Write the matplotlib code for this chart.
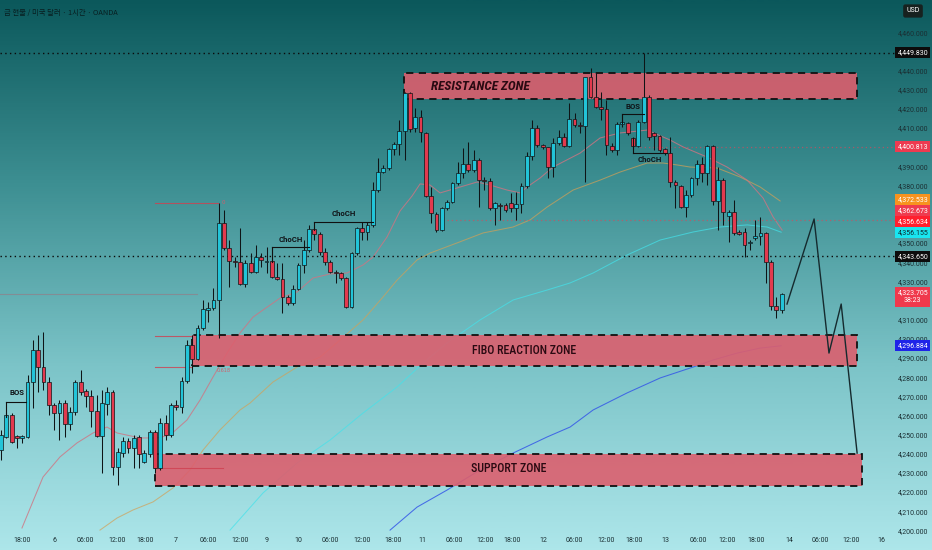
import numpy as np
import matplotlib
matplotlib.use("Agg")
import matplotlib.pyplot as plt
from matplotlib.patches import Rectangle
from matplotlib.colors import LinearSegmentedColormap
from matplotlib import font_manager
import matplotlib.transforms as mtrans

# ---------------- data ----------------
opens = [4242.5, 4249.3, 4260.8, 4249.3, 4249.0, 4249.3, 4278.0, 4294.7, 4285.8, 4278.0,
         4266.0, 4261.8, 4267.0, 4256.1, 4262.3, 4278.0, 4273.3, 4270.7, 4262.9, 4249.8,
         4266.5, 4272.8, 4233.6, 4240.9, 4247.2, 4243.5, 4249.3, 4236.2, 4240.4, 4251.9,
         4233.1, 4256.6, 4250.3, 4266.0, 4264.9, 4278.5, 4297.3, 4290.0, 4306.2, 4315.6,
         4316.6, 4320.8, 4361.0, 4347.9, 4341.2, 4340.6, 4329.2, 4340.1, 4335.4, 4343.2,
         4340.6, 4341.2, 4332.8, 4331.8, 4322.4, 4319.2, 4326.5, 4339.1, 4346.9, 4357.9,
         4355.3, 4345.9, 4340.6, 4335.4, 4334.9, 4332.3, 4317.1, 4345.3, 4358.4, 4356.3,
         4360.0, 4378.2, 4387.6, 4389.7, 4399.6, 4402.2, 4409.0, 4428.9, 4410.6, 4416.3,
         4408.0, 4375.1, 4365.7, 4357.3, 4368.8, 4372.0, 4381.9, 4387.1, 4391.8, 4388.7,
         4393.9, 4383.4, 4382.9, 4368.8, 4370.4, 4370.4, 4371.4, 4368.8, 4370.9, 4380.3,
         4396.0, 4410.6, 4401.7, 4400.7, 4390.2, 4402.8, 4405.9, 4401.2, 4415.3, 4412.2,
         4411.8, 4437.2, 4426.8, 4421.5, 4420.5, 4401.2, 4399.1, 4412.7, 4413.2, 4405.4,
         4401.2, 4413.7, 4426.8, 4408.0, 4406.4, 4399.6, 4397.5, 4382.4, 4380.3, 4369.3,
         4375.6, 4384.5, 4391.8, 4387.1, 4401.2, 4372.5, 4383.4, 4364.6, 4366.7, 4355.8,
         4356.3, 4350.6, 4353.2, 4354.2, 4355.8, 4340.6, 4317.7, 4315.6]
highs = [4252.9, 4261.8, 4261.8, 4250.3, 4250.3, 4281.7, 4299.9, 4302.5, 4304.1, 4280.6,
         4267.0, 4268.6, 4268.6, 4264.9, 4279.0, 4284.3, 4274.3, 4273.8, 4271.2, 4273.8,
         4275.4, 4273.8, 4243.5, 4249.3, 4248.8, 4250.3, 4250.3, 4242.5, 4252.9, 4252.9,
         4259.2, 4260.8, 4267.0, 4268.6, 4280.6, 4299.9, 4302.5, 4307.8, 4320.8, 4319.8,
         4327.1, 4371.4, 4367.8, 4352.1, 4343.2, 4358.4, 4341.7, 4345.3, 4349.5, 4345.3,
         4348.5, 4348.5, 4340.1, 4340.1, 4323.4, 4328.6, 4340.1, 4352.1, 4360.0, 4358.9,
         4356.3, 4347.9, 4341.7, 4336.5, 4335.4, 4332.8, 4345.9, 4358.9, 4361.5, 4361.5,
         4382.4, 4394.9, 4391.3, 4400.1, 4403.3, 4414.8, 4429.4, 4429.4, 4421.0, 4420.0,
         4408.5, 4379.8, 4366.7, 4369.3, 4373.0, 4382.4, 4392.8, 4400.1, 4403.3, 4399.1,
         4394.9, 4385.0, 4384.5, 4372.0, 4371.4, 4371.4, 4376.7, 4377.2, 4381.9, 4398.1,
         4414.8, 4412.2, 4402.2, 4400.7, 4405.4, 4409.5, 4408.0, 4423.6, 4418.4, 4413.7,
         4437.2, 4441.9, 4439.3, 4429.4, 4425.2, 4402.8, 4413.7, 4417.4, 4413.7, 4405.9,
         4414.8, 4449.8, 4427.8, 4408.5, 4406.9, 4400.1, 4405.9, 4383.4, 4380.8, 4378.2,
         4385.0, 4393.9, 4395.4, 4401.7, 4401.7, 4390.2, 4384.5, 4367.8, 4373.0, 4357.3,
         4358.4, 4352.1, 4362.6, 4364.1, 4356.3, 4341.7, 4322.4, 4324.5]
lows = [4237.3, 4248.8, 4246.2, 4243.5, 4246.2, 4248.8, 4264.4, 4272.8, 4273.8, 4260.8,
        4252.9, 4247.7, 4249.3, 4252.9, 4260.8, 4271.2, 4264.9, 4254.5, 4249.3, 4230.5,
        4260.8, 4229.5, 4224.2, 4238.8, 4240.9, 4233.1, 4233.1, 4235.7, 4238.8, 4230.5,
        4232.1, 4247.7, 4249.3, 4263.4, 4261.8, 4277.5, 4282.7, 4289.5, 4305.1, 4309.3,
        4315.6, 4301.0, 4346.9, 4327.6, 4338.0, 4328.6, 4327.6, 4334.9, 4334.9, 4338.0,
        4334.9, 4332.3, 4331.2, 4314.0, 4318.2, 4318.2, 4326.0, 4334.9, 4345.9, 4352.1,
        4344.3, 4339.1, 4334.9, 4329.7, 4331.2, 4316.6, 4316.6, 4344.3, 4352.1, 4352.1,
        4358.9, 4377.2, 4387.1, 4388.7, 4396.5, 4396.5, 4393.9, 4408.5, 4408.5, 4403.3,
        4374.6, 4361.0, 4356.3, 4356.8, 4367.8, 4371.4, 4380.8, 4384.5, 4387.6, 4387.6,
        4369.3, 4378.2, 4367.8, 4360.0, 4362.6, 4366.7, 4366.7, 4362.6, 4366.2, 4379.3,
        4393.9, 4400.7, 4399.6, 4384.5, 4385.0, 4401.7, 4400.7, 4400.7, 4411.1, 4408.0,
        4382.4, 4426.2, 4421.0, 4414.8, 4396.5, 4398.1, 4396.5, 4411.1, 4406.9, 4400.7,
        4400.7, 4413.2, 4404.3, 4399.1, 4398.1, 4396.5, 4379.8, 4368.8, 4368.8, 4364.1,
        4374.6, 4380.8, 4382.4, 4380.8, 4370.4, 4357.3, 4360.0, 4351.1, 4354.7, 4354.7,
        4343.2, 4346.9, 4352.1, 4349.5, 4329.7, 4315.6, 4311.4, 4314.0]
closes = [4250.3, 4260.8, 4246.7, 4249.0, 4249.5, 4278.0, 4294.7, 4285.8, 4278.0, 4266.0,
          4261.8, 4267.0, 4256.1, 4262.3, 4278.0, 4272.8, 4270.7, 4262.9, 4249.8, 4267.0,
          4272.8, 4233.6, 4241.5, 4247.2, 4243.5, 4248.8, 4240.4, 4240.9, 4251.9, 4233.1,
          4256.6, 4250.3, 4266.0, 4264.9, 4278.5, 4297.3, 4290.0, 4306.2, 4316.1, 4316.6,
          4320.8, 4361.0, 4347.9, 4341.2, 4340.6, 4329.2, 4340.1, 4335.4, 4343.2, 4341.7,
          4341.2, 4332.8, 4331.8, 4322.4, 4319.2, 4326.5, 4339.1, 4346.9, 4357.9, 4355.3,
          4345.9, 4340.6, 4335.4, 4335.0, 4332.3, 4317.1, 4345.3, 4358.4, 4356.3, 4360.0,
          4378.2, 4387.6, 4389.7, 4399.6, 4402.2, 4409.0, 4428.9, 4410.1, 4416.3, 4408.5,
          4375.1, 4366.2, 4357.3, 4368.8, 4372.0, 4381.9, 4387.1, 4391.8, 4388.7, 4393.9,
          4383.4, 4382.9, 4368.8, 4371.4, 4369.9, 4367.8, 4368.8, 4370.9, 4380.3, 4396.0,
          4410.6, 4401.7, 4400.7, 4390.2, 4402.8, 4405.9, 4401.2, 4415.3, 4412.2, 4411.8,
          4437.2, 4426.8, 4421.5, 4420.5, 4401.7, 4399.1, 4412.7, 4413.7, 4408.0, 4401.2,
          4413.7, 4426.8, 4405.9, 4406.4, 4399.1, 4397.5, 4382.4, 4380.8, 4369.3, 4375.6,
          4384.5, 4391.8, 4387.1, 4401.2, 4372.5, 4383.4, 4366.7, 4366.7, 4355.8, 4355.5,
          4349.5, 4350.9, 4354.2, 4355.8, 4340.6, 4317.7, 4315.6, 4323.7]

# moving averages (bar index, price)
ma_pink_x = [3.95, 7.91, 11.11, 14.31, 17.33, 19.96, 21.85, 26.18, 29.38, 31.83, 35.03, 37.48,
             39.92, 42.56, 45.01, 47.46, 49.34, 52.54, 55.74, 58.76, 61.96, 65.16, 68.17, 70.06,
             72.69, 75.14, 77.40, 78.91, 80.79, 82.67, 85.88, 89.64, 92.09, 95.29, 97.74, 99.06,
             101.51, 103.95, 109.04, 112.81, 116.57, 121.66, 125.99, 128.44, 132.96, 136.72,
             140.49, 143.50, 145.39, 147.08]
ma_pink_y = [4201.8, 4228.4, 4238.9, 4246.2, 4251.4, 4254.5, 4251.4, 4248.8, 4248.8, 4250.3,
             4258.2, 4268.6, 4280.6, 4293.1, 4303.6, 4311.9, 4315.6, 4321.8, 4325.0, 4332.3,
             4334.4, 4334.9, 4339.1, 4343.2, 4353.7, 4367.3, 4375.1, 4381.4, 4380.8, 4376.7,
             4379.3, 4382.4, 4380.8, 4378.2, 4376.7, 4379.8, 4384.5, 4390.2, 4397.5, 4405.4,
             4408.0, 4409.5, 4404.3, 4400.7, 4395.4, 4390.2, 4383.4, 4374.0, 4364.1, 4357.3]
ma_orange_x = [18.64, 21.85, 24.86, 28.63, 32.39, 35.59, 38.04, 41.24, 45.01, 46.89, 51.22,
               55.74, 60.08, 63.84, 68.17, 71.94, 74.58, 78.34, 80.79, 85.88, 90.77, 96.42,
               99.62, 102.82, 107.72, 112.81, 116.57, 121.66, 124.67, 127.31, 129.76, 134.84,
               139.17, 142.94, 146.70]
ma_orange_y = [4200.7, 4207.0, 4211.2, 4215.4, 4222.7, 4232.1, 4242.5, 4253.0, 4263.4, 4267.0,
               4278.0, 4285.8, 4291.0, 4299.9, 4310.4, 4322.4, 4331.2, 4341.7, 4345.3, 4350.6,
               4355.8, 4358.9, 4362.6, 4369.3, 4378.2, 4383.4, 4387.6, 4392.3, 4392.3, 4391.3,
               4390.2, 4389.7, 4385.0, 4379.8, 4372.5]
ma_cyan_x = [43.13, 49.34, 55.74, 61.96, 68.17, 74.58, 79.47, 83.99, 90.21, 96.42, 102.82,
             107.16, 111.49, 117.89, 124.11, 130.32, 135.40, 140.49, 144.26, 146.89]
ma_cyan_y = [4200.7, 4220.1, 4235.7, 4247.7, 4261.8, 4275.4, 4287.9, 4298.4, 4310.4, 4320.8,
             4326.0, 4329.7, 4334.9, 4344.3, 4352.1, 4356.3, 4358.9, 4360.0, 4358.9, 4356.2]
ma_blue_x = [73.26, 78.34, 83.99, 90.21, 96.42, 102.82, 107.16, 111.49, 117.89, 124.11,
             130.32, 134.09, 138.61, 142.94, 146.89]
ma_blue_y = [4200.7, 4212.7, 4221.6, 4232.1, 4240.9, 4249.3, 4254.5, 4263.4, 4272.3, 4280.1,
             4285.8, 4289.5, 4293.1, 4295.7, 4296.9]

# zones
zone_names = ["RESISTANCE ZONE", "FIBO REACTION ZONE", "SUPPORT ZONE"]
zone_left = [75.95, 35.97, 29.0]
zone_right = [161.2, 161.2, 162.1]
zone_top = [4439.1, 4302.5, 4240.4]
zone_bottom = [4425.6, 4286.5, 4223.7]
zone_text_x = [90.2, 98.5, 95.5]
zone_text_y = [4432.0, 4294.2, 4232.6]

# projected path
proj_x = [148.0, 153.1, 155.9, 158.2, 161.2]
proj_y = [4318.7, 4363.1, 4293.1, 4318.7, 4240.9]

# structure labels: text, text x, text y, line x0, line x1, line y, vertical end y
struct_labels = ["BOS", "ChoCH", "ChoCH", "BOS", "ChoCH"]
struct_tx = [3.0, 54.55, 64.5, 118.96, 122.1]
struct_ty = [4272.3, 4352.6, 4365.7, 4421.7, 4394.4]
struct_x0 = [0.94, 51.0, 59.0, 116.87, 119.0]
struct_x1 = [4.7, 57.9, 70.1, 121.0, 125.4]
struct_ly = [4267.7, 4348.6, 4361.7, 4417.9, 4397.4]
struct_vy = [4259.7, 4340.6, 4357.3, 4413.2, 4405.4]

# fib lines on the left
fib_y = [4371.6, 4323.9, 4302.0, 4286.0, 4233.1]
fib_x0 = [29.0, -0.2, 29.0, 29.0, 29.0]
fib_x1 = [40.9, 36.9, 35.97, 35.97, 41.8]

# horizontal price lines
black_levels = [4449.830, 4343.650]
red_levels = [4400.813, 4362.673]
red_level_start = [120.3, 84.0]

# price axis
y_ticks = list(range(4200, 4461, 10))
hidden_ticks = [4400, 4370, 4360, 4320]
marker_prices = [4296.884, 4323.705, 4343.650, 4356.155, 4356.634, 4362.673, 4372.533, 4400.813, 4449.830]
marker_colors = ["#1f24e8", "#f0394c", "#0c0c0c", "#19e6f0", "#ff1f2e", "#ef3b4f", "#f7931e", "#ee3a50", "#0c0c0c"]
marker_text_colors = ["white", "white", "white", "#0c2a30", "white", "white", "white", "white", "white"]
countdown = "38:23"

# time axis
x_tick_pos = [3.95, 9.98, 15.82, 21.85, 27.12, 32.96, 38.98, 45.01, 50.09, 55.93, 61.96, 67.98,
              73.82, 79.28, 85.31, 91.15, 96.23, 102.07, 107.91, 113.94, 119.21, 125.05, 131.26,
              136.72, 142.18, 148.4, 154.24, 160.08, 165.73]
x_tick_labels = ["18:00", "6", "06:00", "12:00", "18:00", "7", "06:00", "12:00", "9", "10", "06:00",
                 "12:00", "18:00", "11", "06:00", "12:00", "18:00", "12", "06:00", "12:00", "18:00",
                 "13", "06:00", "12:00", "18:00", "14", "06:00", "12:00", "16"]

title = "금 현물 / 미국 달러 · 1시간 · OANDA"

# ---------------- fonts ----------------
names = {f.name for f in font_manager.fontManager.ttflist}
if "Roboto Condensed" in names:
    cond, zscale = "Roboto Condensed", 1.0
elif "Liberation Sans Narrow" in names:
    cond, zscale = "Liberation Sans Narrow", 1.0
else:
    cond, zscale = "Roboto", 0.86
label_font = "Roboto" if "Roboto" in names else "DejaVu Sans"

# ---------------- figure ----------------
W, H = 932, 550
fig = plt.figure(figsize=(W / 100, H / 100), dpi=100)

bg = fig.add_axes([0, 0, 1, 1])
bg.set_axis_off()
grad = np.linspace(0, 1, 512).reshape(-1, 1)
cmap = LinearSegmentedColormap.from_list("bg", ["#0b585b", "#3d8f92", "#7cc4c8", "#ade6ea"])
bg.imshow(grad, aspect="auto", cmap=cmap, extent=[0, 1, 0, 1], origin="upper")
bg.set_xlim(0, 1)
bg.set_ylim(0, 1)

pane_h = 532
ax = fig.add_axes([0, (H - pane_h) / H, 1, pane_h / H])
ax.patch.set_alpha(0)
ax.set_xlim(-0.19, 175.3)
ax.set_ylim(4199.7, 4477.4)
ax.set_axis_off()

px_per_price = pane_h / (4477.4 - 4199.7)

# horizontal levels
for lv in black_levels:
    ax.plot([-0.2, 168.2], [lv, lv], color="#0a0a0a", lw=1.0, linestyle=(0, (1, 2.4)), zorder=2.5)
for lv, x0 in zip(red_levels, red_level_start):
    ax.plot([x0, 168.2], [lv, lv], color="#d8485a", lw=0.9, linestyle=(0, (1, 2.4)), zorder=2.5, alpha=0.7)

# moving averages
ax.plot(ma_blue_x, ma_blue_y, color="#3456e8", lw=0.75, zorder=2, alpha=0.85)
ax.plot(ma_cyan_x, ma_cyan_y, color="#44e2ea", lw=0.75, zorder=2, alpha=0.7)
ax.plot(ma_orange_x, ma_orange_y, color="#d2a056", lw=0.75, zorder=2, alpha=0.7)
ax.plot(ma_pink_x, ma_pink_y, color="#cf7482", lw=0.75, zorder=2, alpha=0.8)

# zones
for i in range(len(zone_names)):
    w = zone_right[i] - zone_left[i]
    h = zone_top[i] - zone_bottom[i]
    ax.add_patch(Rectangle((zone_left[i], zone_bottom[i]), w, h, facecolor="#dc5f6e",
                           alpha=0.9, edgecolor="none", zorder=3))
    ax.add_patch(Rectangle((zone_left[i], zone_bottom[i]), w, h, fill=False, edgecolor="#111111",
                           lw=1.3, linestyle=(0, (4, 3)), zorder=3.6))
ax.text(zone_text_x[0], zone_text_y[0], zone_names[0], ha="center", va="center",
        fontsize=9.5 * zscale, style="italic", weight="bold", color="#2a0a12", family=cond, zorder=7)
for i in (1, 2):
    ax.text(zone_text_x[i], zone_text_y[i], zone_names[i], ha="center", va="center",
            fontsize=8.6 * zscale, color="#2a0a12", family=cond, weight="medium", zorder=7)

# fib lines
for i, (fy, x0, x1) in enumerate(zip(fib_y, fib_x0, fib_x1)):
    ax.plot([x0, x1], [fy, fy], color="#cf4050", lw=0.8, alpha=0.3 if i == 1 else 0.8, zorder=3.7)
ax.text(fib_x1[0] + 0.6, fib_y[0], "0", fontsize=4, color="#d0606c", va="center", zorder=3.7)
ax.text(fib_x1[4] - 1.2, fib_y[3] - 0.5, "0.618", fontsize=3.5, color="#d0606c", va="top", zorder=3.7)

# candles
up_col, dn_col, edge_col = "#22c4d8", "#e23a4e", "#0e1416"
for i, (o, h, l, c) in enumerate(zip(opens, highs, lows, closes)):
    col = up_col if c >= o else dn_col
    ax.plot([i, i], [l, h], color=edge_col, lw=0.75, zorder=4, solid_capstyle="butt")
    bottom = min(o, c)
    height = max(abs(c - o), 0.6)
    ax.add_patch(Rectangle((i - 0.36, bottom), 0.72, height, facecolor=col,
                           edgecolor=edge_col, lw=0.5, zorder=5))

# projected path
ax.plot(proj_x, proj_y, color="#152a2e", lw=1.0, zorder=6)

# structure labels
for t, tx, ty, x0, x1, ly, vy in zip(struct_labels, struct_tx, struct_ty, struct_x0,
                                     struct_x1, struct_ly, struct_vy):
    ax.plot([x0, x1], [ly, ly], color="#101010", lw=0.8, zorder=6)
    ax.plot([x0, x0], [ly, vy], color="#101010", lw=0.8, zorder=6)
    ax.text(tx, ty, t, ha="center", va="center", fontsize=5.6, color="#101418",
            family=label_font, weight="bold", zorder=7)

# price axis labels
lab_x = 171.7
for t in y_ticks:
    if t in hidden_ticks:
        continue
    ax.text(lab_x, t, f"{t:,.3f}", ha="center", va="center", fontsize=5.0,
            color="#1b3034", family=label_font, zorder=8, clip_on=False)

# stacked price markers
gap = 10.8 / px_per_price
order = np.argsort(marker_prices)
shown = {}
prev = -1e9
for k in order:
    p = marker_prices[k]
    disp = max(p, prev + gap)
    shown[k] = disp
    prev = disp
for k in range(len(marker_prices)):
    p = marker_prices[k]
    txt = f"{p:,.3f}"
    if abs(p - closes[-1]) < 0.05:
        ax.text(lab_x, shown[k] + 3.0, txt + "\n" + countdown, ha="center", va="top",
                fontsize=5.0, linespacing=1.35, color=marker_text_colors[k], family=label_font,
                zorder=9, bbox=dict(boxstyle="square,pad=0.3", facecolor=marker_colors[k],
                                    edgecolor="none"))
    else:
        ax.text(lab_x, shown[k], txt, ha="center", va="center", fontsize=5.0,
                color=marker_text_colors[k], family=label_font, zorder=9,
                bbox=dict(boxstyle="square,pad=0.3", facecolor=marker_colors[k], edgecolor="none"))

# time axis labels
trans = mtrans.blended_transform_factory(ax.transData, ax.transAxes)
for xp, lab in zip(x_tick_pos, x_tick_labels):
    ax.text(xp, -8 / pane_h, lab, transform=trans, ha="center", va="center", fontsize=5.0,
            color="#1b3034", family=label_font, clip_on=False)

# title and currency
fig.text(4 / W, 1 - 13 / H, title, fontsize=5.3, color="#081f21", va="center", ha="left",
         family=["Noto Sans CJK KR", "DejaVu Sans"], weight="medium")
fig.text(913 / W, 1 - 11 / H, "USD", fontsize=5.0, color="white", va="center", ha="center",
         family=label_font,
         bbox=dict(boxstyle="round,pad=0.45,rounding_size=0.3", facecolor="#17211f", edgecolor="none"))

fig.savefig("out.png", dpi=100)
